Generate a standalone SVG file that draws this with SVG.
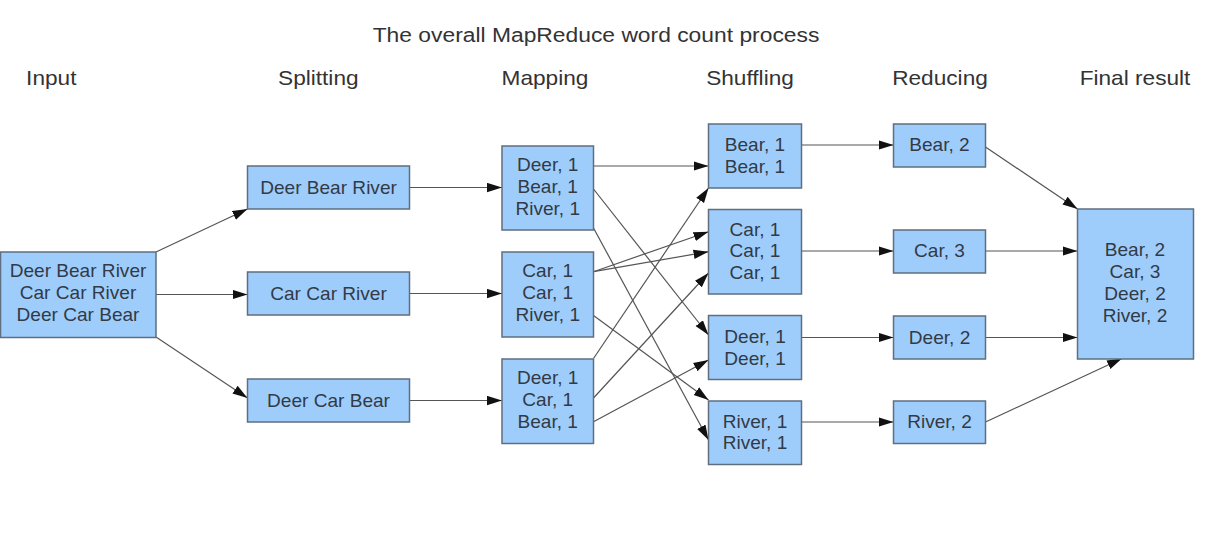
<svg xmlns="http://www.w3.org/2000/svg" width="1215" height="546" viewBox="0 0 1215 546">
<style>
.bg{fill:#ffffff}
.box{fill:#9fcdfb;stroke:#5f6e80;stroke-width:1.5}
.t{font-family:"Liberation Sans",Arial,sans-serif;font-size:17.5px;fill:#323a46;text-anchor:middle}
.h{font-family:"Liberation Sans",Arial,sans-serif;font-size:20.4px;fill:#333333;text-anchor:middle}
.c{stroke:#555555;stroke-width:1.2;fill:none;marker-end:url(#ah)}
</style>
<defs>
<marker id="ah" markerUnits="userSpaceOnUse" markerWidth="16" markerHeight="11" refX="15" refY="5" orient="auto">
<path d="M0,0.3 L15,5 L0,9.7 z" fill="#111111"/>
</marker>
</defs>
<rect class="bg" x="0" y="0" width="1215" height="546"/>

<g id="titles">
<text class="h" transform="translate(596 42) scale(1.12 1)" x="0" y="0">The overall MapReduce word count process</text>
<text class="h" transform="translate(51.3 85) scale(1.11 1)" x="0" y="0">Input</text>
<text class="h" transform="translate(318.3 85) scale(1.11 1)" x="0" y="0">Splitting</text>
<text class="h" transform="translate(545 85) scale(1.11 1)" x="0" y="0">Mapping</text>
<text class="h" transform="translate(750 85) scale(1.11 1)" x="0" y="0">Shuffling</text>
<text class="h" transform="translate(940 85) scale(1.11 1)" x="0" y="0">Reducing</text>
<text class="h" transform="translate(1135 85) scale(1.11 1)" x="0" y="0">Final result</text>
</g>

<g id="connectors">
<line class="c" x1="156" y1="252" x2="247.5" y2="209"/>
<line class="c" x1="156" y1="294.5" x2="247.5" y2="294.5"/>
<line class="c" x1="156" y1="337" x2="247.5" y2="398"/>
<line class="c" x1="409.5" y1="187.5" x2="502" y2="187.5"/>
<line class="c" x1="409.5" y1="293.5" x2="502" y2="293.5"/>
<line class="c" x1="409.5" y1="400.5" x2="502" y2="400.5"/>
<line class="c" x1="593.5" y1="166" x2="708.5" y2="166"/>
<line class="c" x1="593.5" y1="189" x2="708.5" y2="335"/>
<line class="c" x1="593.5" y1="228" x2="708.5" y2="440"/>
<line class="c" x1="593.5" y1="271.7" x2="708.5" y2="231.7"/>
<line class="c" x1="593.5" y1="271.7" x2="708.5" y2="251.7"/>
<line class="c" x1="593.5" y1="315.5" x2="708.5" y2="400"/>
<line class="c" x1="593.5" y1="358.5" x2="708.5" y2="188"/>
<line class="c" x1="593.5" y1="398" x2="708.5" y2="273"/>
<line class="c" x1="593.5" y1="421.7" x2="708.5" y2="360"/>
<line class="c" x1="801.5" y1="145" x2="893.5" y2="145"/>
<line class="c" x1="801.5" y1="251" x2="893.5" y2="251"/>
<line class="c" x1="801.5" y1="337.5" x2="893.5" y2="337.5"/>
<line class="c" x1="801.5" y1="422" x2="893.5" y2="422"/>
<line class="c" x1="985.5" y1="147" x2="1077.5" y2="209"/>
<line class="c" x1="985.5" y1="251" x2="1077.5" y2="251"/>
<line class="c" x1="985.5" y1="337.5" x2="1077.5" y2="337.5"/>
<line class="c" x1="985.5" y1="422" x2="1122" y2="358.5"/>
</g>

<g id="input">
<rect class="box" x="0.5" y="252" width="155.5" height="85.5"/>
<text class="t" transform="translate(78 277) scale(1.09 1)"><tspan x="0" y="0">Deer Bear River</tspan><tspan x="0" y="22">Car Car River</tspan><tspan x="0" y="44.3">Deer Car Bear</tspan></text>
</g>

<g id="split1">
<rect class="box" x="247.5" y="166" width="162" height="43"/>
<text class="t" transform="translate(328.5 193.8) scale(1.09 1)" x="0" y="0">Deer Bear River</text>
</g>
<g id="split2">
<rect class="box" x="247.5" y="272" width="162" height="43"/>
<text class="t" transform="translate(328.5 299.8) scale(1.09 1)" x="0" y="0">Car Car River</text>
</g>
<g id="split3">
<rect class="box" x="247.5" y="379" width="162" height="43"/>
<text class="t" transform="translate(328.5 406.8) scale(1.09 1)" x="0" y="0">Deer Car Bear</text>
</g>

<g id="map1">
<rect class="box" x="502" y="146" width="91.5" height="84"/>
<text class="t" transform="translate(547.7 171.3) scale(1.09 1)"><tspan x="0" y="0">Deer, 1</tspan><tspan x="0" y="21.7">Bear, 1</tspan><tspan x="0" y="43.3">River, 1</tspan></text>
</g>
<g id="map2">
<rect class="box" x="502" y="252" width="91.5" height="85"/>
<text class="t" transform="translate(547.7 277) scale(1.09 1)"><tspan x="0" y="0">Car, 1</tspan><tspan x="0" y="22">Car, 1</tspan><tspan x="0" y="44.3">River, 1</tspan></text>
</g>
<g id="map3">
<rect class="box" x="502" y="359" width="91.5" height="84.5"/>
<text class="t" transform="translate(547.7 384) scale(1.09 1)"><tspan x="0" y="0">Deer, 1</tspan><tspan x="0" y="22.3">Car, 1</tspan><tspan x="0" y="44">Bear, 1</tspan></text>
</g>

<g id="shuf1">
<rect class="box" x="708.5" y="124" width="93" height="64"/>
<text class="t" transform="translate(755 151.3) scale(1.09 1)"><tspan x="0" y="0">Bear, 1</tspan><tspan x="0" y="21.7">Bear, 1</tspan></text>
</g>
<g id="shuf2">
<rect class="box" x="708.5" y="209.5" width="93" height="84.5"/>
<text class="t" transform="translate(755 235.6) scale(1.09 1)"><tspan x="0" y="0">Car, 1</tspan><tspan x="0" y="21.4">Car, 1</tspan><tspan x="0" y="43.4">Car, 1</tspan></text>
</g>
<g id="shuf3">
<rect class="box" x="708.5" y="315.5" width="93" height="64"/>
<text class="t" transform="translate(755 343) scale(1.09 1)"><tspan x="0" y="0">Deer, 1</tspan><tspan x="0" y="21.6">Deer, 1</tspan></text>
</g>
<g id="shuf4">
<rect class="box" x="708.5" y="401" width="93" height="63.5"/>
<text class="t" transform="translate(755 428) scale(1.09 1)"><tspan x="0" y="0">River, 1</tspan><tspan x="0" y="21">River, 1</tspan></text>
</g>

<g id="red1">
<rect class="box" x="893.5" y="124" width="92" height="43"/>
<text class="t" transform="translate(939.5 151.3) scale(1.09 1)" x="0" y="0">Bear, 2</text>
</g>
<g id="red2">
<rect class="box" x="893.5" y="230" width="92" height="43"/>
<text class="t" transform="translate(939.5 257.3) scale(1.09 1)" x="0" y="0">Car, 3</text>
</g>
<g id="red3">
<rect class="box" x="893.5" y="316" width="92" height="43"/>
<text class="t" transform="translate(939.5 343.8) scale(1.09 1)" x="0" y="0">Deer, 2</text>
</g>
<g id="red4">
<rect class="box" x="893.5" y="401" width="92" height="42.5"/>
<text class="t" transform="translate(939.5 428.3) scale(1.09 1)" x="0" y="0">River, 2</text>
</g>

<g id="final">
<rect class="box" x="1077.5" y="209" width="116" height="150"/>
<text class="t" transform="translate(1135 255.6) scale(1.09 1)"><tspan x="0" y="0">Bear, 2</tspan><tspan x="0" y="22">Car, 3</tspan><tspan x="0" y="44">Deer, 2</tspan><tspan x="0" y="66.7">River, 2</tspan></text>
</g>
</svg>
